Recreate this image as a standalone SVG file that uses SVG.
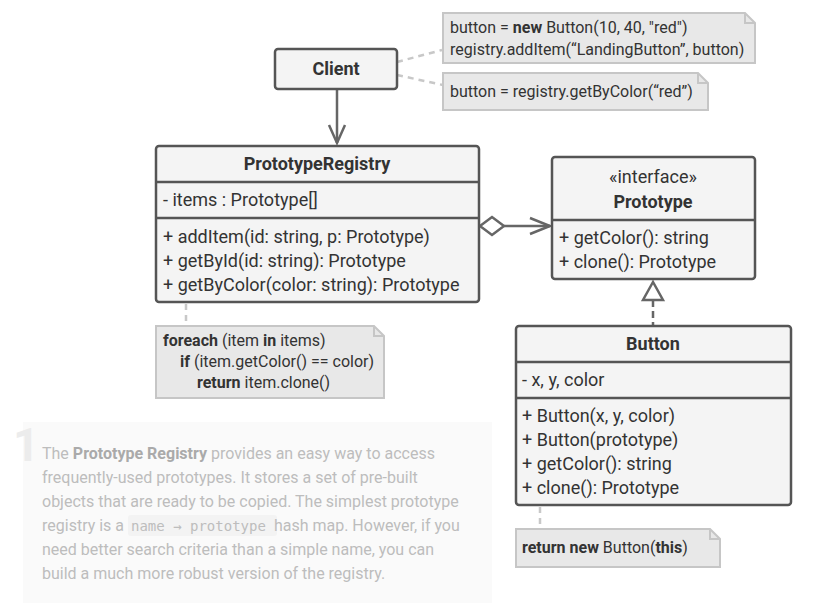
<svg xmlns="http://www.w3.org/2000/svg" width="816" height="612" viewBox="0 0 816 612">
<style>
text{font-family:Roboto,"Liberation Sans",sans-serif;fill:#333;}
.box{fill:#f4f4f4;stroke:#555;stroke-width:2.5;}
.div{stroke:#555;stroke-width:2.5;}
.t{font-size:18px;}
.b{font-weight:bold;}
.note{fill:#e8e8e8;stroke:#c6c6c6;stroke-width:2;}
.fold{fill:none;stroke:#c6c6c6;stroke-width:2;}
.nt{font-size:16px;}
.dash{stroke:#c8c8c8;stroke-width:2.5;stroke-dasharray:6 5;fill:none;}
.line{stroke:#666;stroke-width:2.5;fill:none;}
.p{font-size:16px;fill:#bdbdbd;}
</style>
<rect width="816" height="612" fill="#fff"/>
<g id="connectors">
<line class="dash" x1="397" y1="62" x2="442" y2="50"/>
<line class="dash" x1="397" y1="75" x2="443" y2="85"/>
<line class="dash" x1="186" y1="304" x2="186" y2="324"/>
<line class="dash" x1="540" y1="507" x2="540" y2="527"/>
<line class="line" x1="337" y1="89" x2="337" y2="143"/>
<polyline class="line" points="329,125 337,143 345,125"/>
<polygon points="480,226 492,217 504,226 492,235" fill="#fff" stroke="#666" stroke-width="2.5"/>
<line class="line" x1="504" y1="226" x2="550" y2="226"/>
<polyline class="line" points="530,218 550,226 530,234"/>
<line class="line" x1="653" y1="300" x2="653" y2="325" stroke-dasharray="7 4"/>
<polygon points="653,282 643,300 663,300" fill="#fff" stroke="#666" stroke-width="2.5"/>
</g>
<g id="client">
<rect class="box" x="275" y="49" width="122" height="40" rx="3"/>
<text class="t b" x="336" y="75" text-anchor="middle">Client</text>
</g>
<g id="note1">
<path class="note" d="M443,13 H745 L755,23 V63 H443 Z"/>
<path class="fold" d="M745,13 V23 H755"/>
<text class="nt" x="450" y="33">button = <tspan class="b">new</tspan> Button(10, 40, "red")</text>
<text class="nt" x="450" y="55">registry.addItem(“LandingButton”, button)</text>
</g>
<g id="note2">
<path class="note" d="M443,73 H698 L708,83 V110 H443 Z"/>
<path class="fold" d="M698,73 V83 H708"/>
<text class="nt" x="450" y="97">button = registry.getByColor(“red”)</text>
</g>
<g id="registry">
<rect class="box" x="156" y="146" width="323" height="156" rx="3"/>
<line class="div" x1="156" y1="182" x2="479" y2="182"/>
<line class="div" x1="156" y1="218" x2="479" y2="218"/>
<text class="t b" x="317" y="170" text-anchor="middle">PrototypeRegistry</text>
<text class="t" x="163" y="206">- items : Prototype[]</text>
<text class="t" x="163" y="243">+ addItem(id: string, p: Prototype)</text>
<text class="t" x="163" y="267">+ getById(id: string): Prototype</text>
<text class="t" x="163" y="291">+ getByColor(color: string): Prototype</text>
</g>
<g id="note3">
<path class="note" d="M156,326 H374 L384,336 V398 H156 Z"/>
<path class="fold" d="M374,326 V336 H384"/>
<text class="nt" x="163" y="346"><tspan class="b">foreach</tspan> (item <tspan class="b">in</tspan> items)</text>
<text class="nt" x="180" y="367"><tspan class="b">if</tspan> (item.getColor() == color)</text>
<text class="nt" x="197" y="388"><tspan class="b">return</tspan> item.clone()</text>
</g>
<g id="prototype">
<rect class="box" x="552" y="157" width="203" height="122" rx="3"/>
<line class="div" x1="552" y1="220" x2="755" y2="220"/>
<text class="t" x="653" y="183" text-anchor="middle">«interface»</text>
<text class="t b" x="653" y="208" text-anchor="middle">Prototype</text>
<text class="t" x="559" y="244">+ getColor(): string</text>
<text class="t" x="559" y="268">+ clone(): Prototype</text>
</g>
<g id="button">
<rect class="box" x="516" y="326" width="275" height="179" rx="3"/>
<line class="div" x1="516" y1="362" x2="791" y2="362"/>
<line class="div" x1="516" y1="398" x2="791" y2="398"/>
<text class="t b" x="653" y="350" text-anchor="middle">Button</text>
<text class="t" x="522" y="386">- x, y, color</text>
<text class="t" x="522" y="422">+ Button(x, y, color)</text>
<text class="t" x="522" y="446">+ Button(prototype)</text>
<text class="t" x="522" y="470">+ getColor(): string</text>
<text class="t" x="522" y="494">+ clone(): Prototype</text>
</g>
<g id="note4">
<path class="note" d="M516,529 H710 L720,539 V567 H516 Z"/>
<path class="fold" d="M710,529 V539 H720"/>
<text class="nt" x="522" y="553"><tspan class="b">return new</tspan> Button(<tspan class="b">this</tspan>)</text>
</g>
<g id="description">
<rect x="23" y="422" width="469" height="181" fill="#fafafa"/>
<text x="13" y="461" font-size="46" font-weight="bold" style="fill:#ececec">1</text>
<rect x="128" y="515" width="149" height="21" rx="3" fill="#f3f3f3"/>
<text class="p" x="42" y="459">The <tspan font-weight="bold" style="fill:#aaa">Prototype Registry</tspan> provides an easy way to access</text>
<text class="p" x="42" y="483">frequently-used prototypes. It stores a set of pre-built</text>
<text class="p" x="42" y="507">objects that are ready to be copied. The simplest prototype</text>
<text class="p" x="42" y="531">registry is a <tspan font-family="'DejaVu Sans Mono',monospace" font-size="14" dx="3">name → prototype</tspan><tspan dx="8">hash map. However, if you</tspan></text>
<text class="p" x="42" y="555">need better search criteria than a simple name, you can</text>
<text class="p" x="42" y="579">build a much more robust version of the registry.</text>
</g>
</svg>
